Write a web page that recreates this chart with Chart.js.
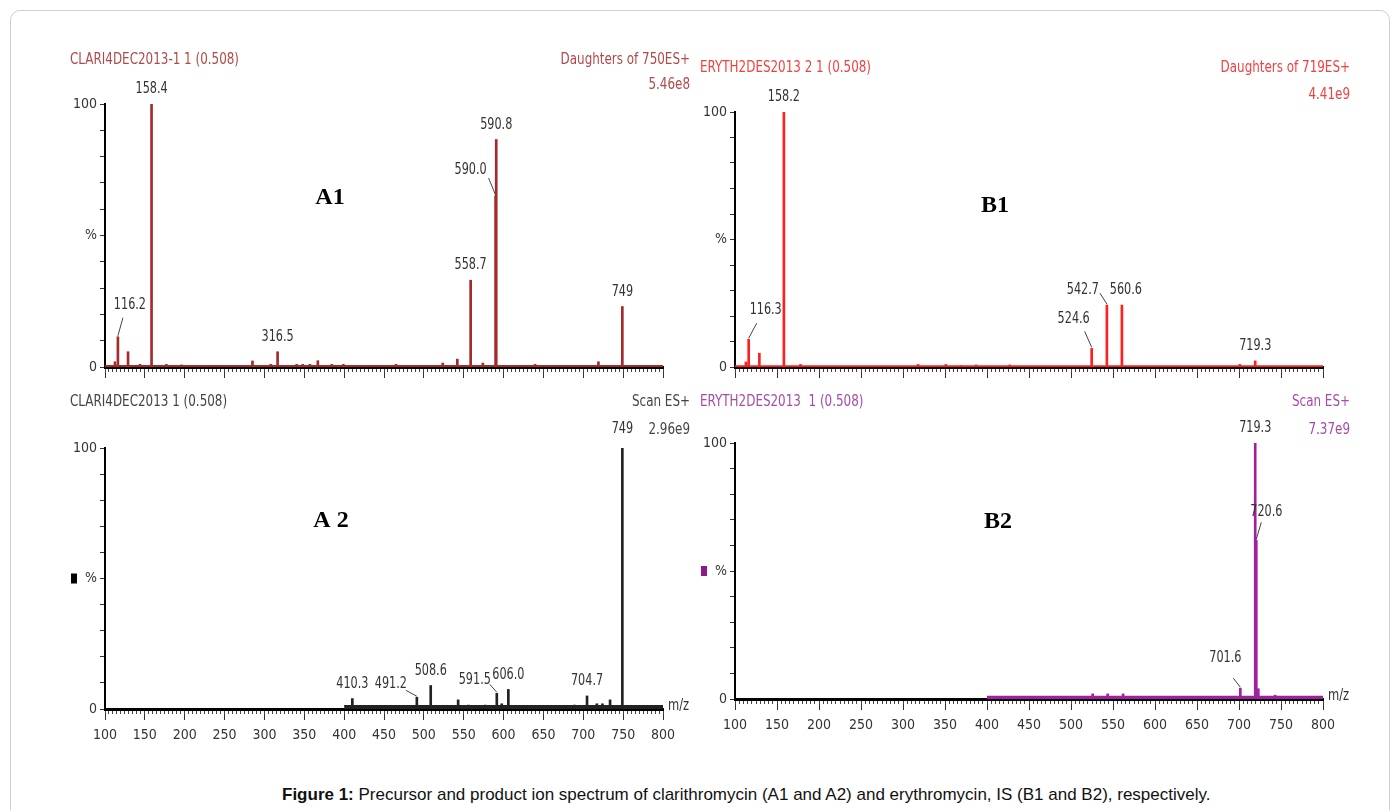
<!DOCTYPE html>
<html>
<head>
<meta charset="utf-8">
<title>Figure 1</title>
<style>
  body { margin: 0; background: #fff; font-family: 'Liberation Sans', Arial, sans-serif; }
  .frame { position: absolute; left: 10px; top: 10px; width: 1378px; height: 830px; border: 1px solid #cfcfcf; border-radius: 10px; }
  .panel { position: absolute; }
  .caption { position: absolute; left: 282px; top: 785px; font-size: 17px; color: #111; white-space: nowrap; }
</style>
</head>
<body>
<div class="frame"></div>
<div class="panel" style="left:60px;top:40px;width:640px;height:345px"><canvas id="a1"></canvas></div>
<div class="panel" style="left:60px;top:385px;width:640px;height:375px"><canvas id="a2"></canvas></div>
<div class="panel" style="left:690px;top:40px;width:670px;height:345px"><canvas id="b1"></canvas></div>
<div class="panel" style="left:690px;top:385px;width:670px;height:375px"><canvas id="b2"></canvas></div>
<div class="caption"><b>Figure 1:</b> Precursor and product ion spectrum of clarithromycin (A1 and A2) and erythromycin, IS (B1 and B2), respectively.</div>

<script src="https://cdn.jsdelivr.net/npm/chart.js"></script>
<script>
  // m/z axis
  const mzMin = 100, mzMax = 800;

  // A1 - Daughters of 750ES+ (clarithromycin product ions)
  const a1Mz  = [112.5, 116.2, 128.9, 143.9, 158.4, 177, 196, 215, 250.5, 273, 285, 308, 316.5, 340.5, 348, 357, 367, 384.5, 399, 409.5, 465, 483.5, 523.7, 542, 558.7, 574, 590.0, 590.8, 639.5, 666, 719, 749, 779.6];
  const a1Int = [2, 11.5, 5.8, 1, 100, 1, 0.8, 0.5, 0.5, 0.5, 2.3, 1, 5.8, 1, 1, 1, 2.4, 1, 1, 0.5, 1, 0.5, 1.5, 3, 33, 1.5, 65, 86.5, 1, 0.5, 2, 23, 0.5];
  const a1Floor = [[100, 0.5], [800, 0.5]];
  const a1Labels = ['116.2', '158.4', '316.5', '558.7', '590.0', '590.8', '749'];

  // A2 - Scan ES+ (clarithromycin precursor)
  const a2Mz  = [410.3, 420, 440, 460, 491.2, 508.6, 518, 531, 543, 556, 566, 577, 591.5, 597.7, 606.0, 629, 677, 689, 704.7, 717, 724, 733.6, 749, 762.5, 775, 781, 792];
  const a2Int = [4, 1, 0.8, 0.8, 4.5, 9, 1, 1, 3.5, 1.5, 1, 1.5, 6, 2, 7.5, 1, 1, 1.5, 5, 2, 2, 3.5, 100, 1, 1, 1, 0.5];
  const a2Floor = [[400, 1.2], [800, 1.2]];
  const a2Labels = ['410.3', '491.2', '508.6', '591.5', '606.0', '704.7', '749'];

  // B1 - Daughters of 719ES+ (erythromycin product ions)
  const b1Mz  = [113, 116.3, 129, 158.2, 178, 318, 351, 369, 387, 427, 524.6, 542.7, 560.6, 701, 719.3];
  const b1Int = [2, 10.9, 5.4, 100, 1, 1, 1, 0.5, 0.8, 0.8, 7.3, 24.3, 24.3, 1, 2.4];
  const b1Floor = [[100, 0.4], [800, 0.4]];
  const b1Labels = ['116.3', '158.2', '524.6', '542.7', '560.6', '719.3'];

  // B2 - Scan ES+ (erythromycin precursor)
  const b2Mz  = [525.8, 543.7, 562, 701.6, 706, 719.3, 720.6, 723, 743];
  const b2Int = [2, 2, 2, 4.2, 1, 100, 62, 4, 1.5];
  const b2Floor = [[400, 1], [800, 1]];
  const b2Labels = ['701.6', '719.3', '720.6'];

  const NARROW = "'Liberation Sans Narrow', 'DejaVu Sans Condensed', 'Arial Narrow', sans-serif";
  const GREY = '#333';

  // label offsets: [dx, dy, leaderStartX, leaderStartY] relative to the peak top
  const DEFAULT_OFF = [0, -15];

  // condensed text, like the instrument software prints it
  function narrowText(ctx, text, x, y, sx) {
    ctx.save();
    ctx.translate(x, y);
    ctx.scale(sx, 1);
    ctx.fillText(text, 0, 0);
    ctx.restore();
  }

  function textPlugin(p) {
    return {
      id: 'spectrumText',
      afterDraw(chart) {
        const { ctx, chartArea, scales } = chart;
        const xs = scales.x, ys = scales.y;
        ctx.save();
        ctx.textBaseline = 'middle';
        ctx.font = '16px ' + NARROW;
        ctx.fillStyle = p.headColor;
        ctx.textAlign = 'left';
        narrowText(ctx, p.head[0], 10, p.headY[0], 0.83);
        ctx.textAlign = 'right';
        narrowText(ctx, p.head[1], chart.width - 10, p.headY[0], 0.83);
        narrowText(ctx, p.head[2], chart.width - 10, p.headY[1], 0.83);

        // peak labels
        ctx.fillStyle = GREY;
        ctx.strokeStyle = '#444';
        ctx.lineWidth = 1;
        ctx.textAlign = 'center';
        p.labels.forEach(t => {
          const m = parseFloat(t);
          const i = p.mz.indexOf(m);
          if (i < 0) return;
          const px = xs.getPixelForValue(m);
          const py = ys.getPixelForValue(p.inten[i]);
          const off = p.offsets[t] || DEFAULT_OFF;
          narrowText(ctx, t, px + off[0], py + off[1], 0.78);
          if (off.length > 2) {
            ctx.beginPath();
            ctx.moveTo(px + off[2], py + off[3]);
            ctx.lineTo(px, py - 1);
            ctx.stroke();
          }
        });

        // panel title
        ctx.fillStyle = '#000';
        ctx.font = 'bold 24px "Liberation Serif", "Times New Roman", serif';
        ctx.fillText(p.title, p.titlePos[0], p.titlePos[1]);

        // m/z and marker on the scan panels
        if (p.scan) {
          ctx.font = '16px ' + NARROW;
          ctx.fillStyle = GREY;
          ctx.textAlign = 'left';
          narrowText(ctx, 'm/z', chartArea.right + 5, ys.getPixelForValue(0) - 3, 0.8);
          ctx.fillStyle = p.marker;
          ctx.fillRect(chartArea.left - 34, ys.getPixelForValue(50) - 5, 6, 10);
        }
        ctx.restore();
      }
    };
  }

  function makeChart(id, p) {
    const tickFont = { family: NARROW, size: 14 };
    return new Chart(document.getElementById(id), {
      type: 'bar',
      data: {
        datasets: [
          {
            type: 'bar',
            data: p.mz.map((m, i) => ({ x: m, y: p.inten[i] })),
            backgroundColor: p.color,
            barThickness: 2,
            order: 1
          },
          {
            type: 'line',
            data: p.floor.map(d => ({ x: d[0], y: d[1] })),
            borderColor: p.color,
            backgroundColor: p.color,
            borderWidth: 1.5,
            fill: 'origin',
            pointRadius: 0,
            order: 2
          }
        ]
      },
      options: {
        responsive: true,
        maintainAspectRatio: false,
        animation: false,
        layout: { padding: p.pad },
        plugins: { legend: { display: false }, tooltip: { enabled: false } },
        scales: {
          x: {
            type: 'linear', axis: 'x', position: { y: 0 },
            min: mzMin, max: mzMax, offset: false,
            grid: { drawOnChartArea: false, tickLength: 9, color: '#333', offset: false },
            border: { display: true, color: '#000', width: 3 },
            ticks: { stepSize: 50, autoSkip: false, maxRotation: 0, display: p.scan, color: GREY, font: tickFont, padding: 9 }
          },
          xm: {
            type: 'linear', axis: 'x', position: { y: 0 },
            min: mzMin, max: mzMax, offset: false,
            grid: { drawOnChartArea: false, tickLength: 5, color: '#444', offset: false },
            border: { display: false },
            ticks: { stepSize: 5, display: false, autoSkip: false }
          },
          y: {
            type: 'linear', position: 'left', min: 0, max: 100,
            grid: { drawOnChartArea: false, tickLength: 5, color: '#333' },
            border: { color: '#000', width: 2 },
            ticks: {
              stepSize: 10, autoSkip: false, color: GREY, font: tickFont, padding: 3,
              callback: v => v === 100 ? '100' : v === 50 ? '%' : v === 0 ? '0' : ''
            },
            afterFit: s => { s.width = 45; }
          }
        }
      },
      plugins: [textPlugin(p)]
    });
  }

  makeChart('a1', {
    mz: a1Mz, inten: a1Int, floor: a1Floor, labels: a1Labels,
    color: '#a52a2a', headColor: '#b04a4a',
    head: ['CLARI4DEC2013-1 1 (0.508)', 'Daughters of 750ES+', '5.46e8'], headY: [20, 45],
    offsets: { '116.2': [12, -32, 5, -19], '590.0': [-25, -26, -7, -18] },
    title: 'A1', titlePos: [270, 158],
    pad: { left: 0, top: 64, right: 37, bottom: 18 }, scan: false
  });

  makeChart('a2', {
    mz: a2Mz, inten: a2Int, floor: a2Floor, labels: a2Labels,
    color: '#222', headColor: '#444',
    head: ['CLARI4DEC2013 1 (0.508)', 'Scan ES+', '2.96e9'], headY: [17, 45],
    offsets: { '491.2': [-26, -13, -11, -7], '591.5': [-22, -13, -7, -9], '749': [0, -19] },
    title: 'A 2', titlePos: [271, 136], marker: '#000',
    pad: { left: 0, top: 63, right: 37, bottom: 51 }, scan: true
  });

  makeChart('b1', {
    mz: b1Mz, inten: b1Int, floor: b1Floor, labels: b1Labels,
    color: '#ff1f1f', headColor: '#f04040',
    head: ['ERYTH2DES2013 2 1 (0.508)', 'Daughters of 719ES+', '4.41e9'], headY: [28, 55],
    offsets: { '116.3': [17, -29, 8, -16], '524.6': [-18, -30, -7, -17], '542.7': [-24, -15, -7, -12], '560.6': [4, -15] },
    title: 'B1', titlePos: [305, 166],
    pad: { left: 0, top: 72, right: 37, bottom: 18 }, scan: false
  });

  makeChart('b2', {
    mz: b2Mz, inten: b2Int, floor: b2Floor, labels: b2Labels,
    color: '#a020a0', headColor: '#a64ca6',
    head: ['ERYTH2DES2013  1 (0.508)', 'Scan ES+', '7.37e9'], headY: [17, 45],
    offsets: { '701.6': [-15, -30, -7, -10], '720.6': [10, -28, 5, -18] },
    title: 'B2', titlePos: [308, 137], marker: '#8b1a8b',
    pad: { left: 0, top: 58, right: 37, bottom: 61 }, scan: true
  });
</script>
</body>
</html>
